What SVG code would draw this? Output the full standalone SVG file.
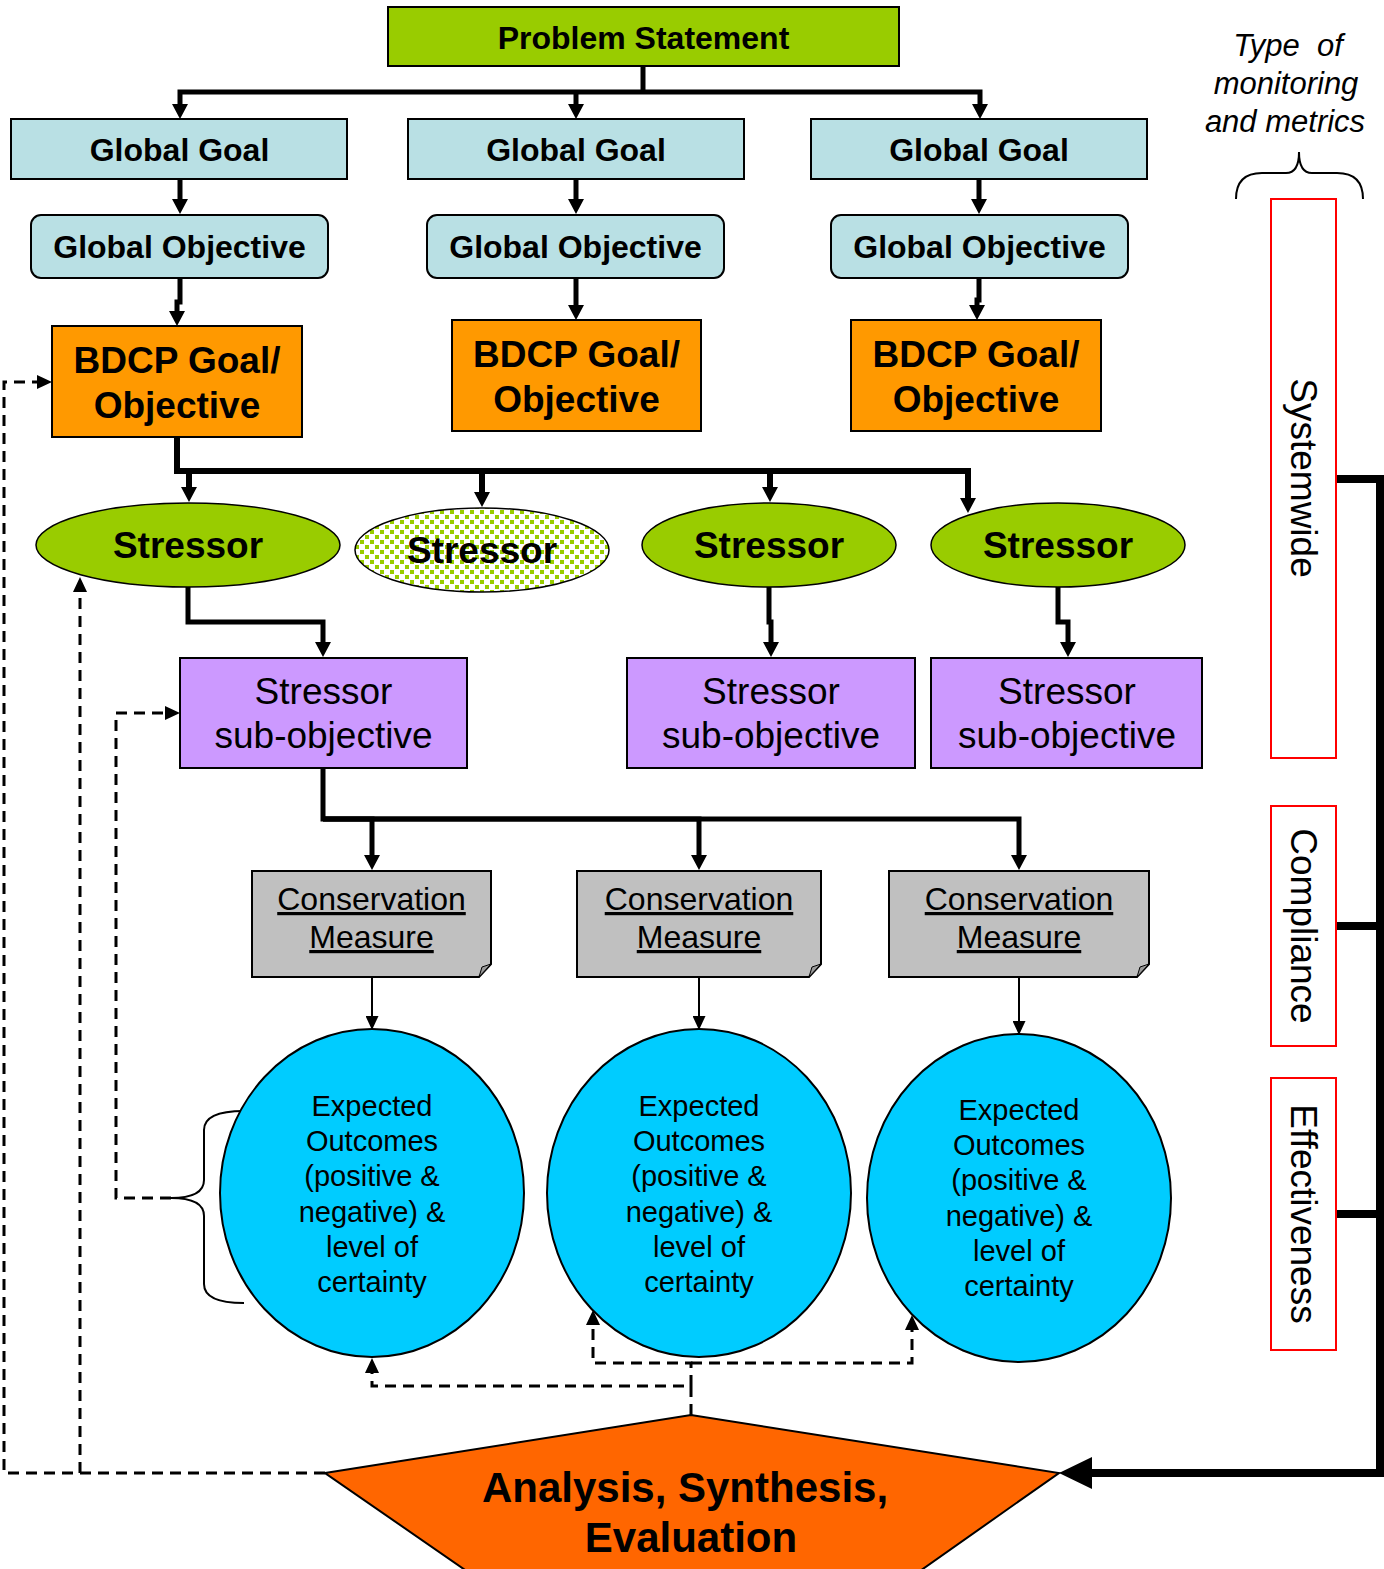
<svg xmlns="http://www.w3.org/2000/svg" width="1384" height="1569" viewBox="0 0 1384 1569">
<style>
.box{stroke:#000;stroke-width:2}
.ps{fill:#99CC00}
.gg{fill:#B9E0E4}
.bd{fill:#FF9900}
.st{fill:#99CC00;stroke:#000;stroke-width:1.5}
.so{fill:#CC99FF}
.cm{fill:#C0C0C0;stroke:#000;stroke-width:2}
.eo{fill:#00CCFF;stroke:#000;stroke-width:2}
.red{fill:#fff;stroke:#FF0000;stroke-width:2}
text{font-family:"Liberation Sans",Arial,sans-serif;fill:#000;text-anchor:middle}
.b32{font-size:32px;font-weight:bold}
.b37{font-size:37px;font-weight:bold}
.r37{font-size:37px}
.r32{font-size:32px;text-decoration:underline}
.r29{font-size:29px}
.vt{font-size:37px}
.it{font-size:31px;font-style:italic}
.b42{font-size:42px;font-weight:bold}
.thick{fill:none;stroke:#000;stroke-width:5}
.thin{fill:none;stroke:#000;stroke-width:2}
.dash{fill:none;stroke:#000;stroke-width:3;stroke-dasharray:11 7}
.heavy{fill:none;stroke:#000;stroke-width:8}
</style>
<defs>
<marker id="ab" markerUnits="userSpaceOnUse" viewBox="0 0 15 16" markerWidth="15" markerHeight="16" refX="0" refY="8" orient="auto"><path d="M0,0 L15,8 L0,16 Z" fill="#000"/></marker>
<marker id="at" markerUnits="userSpaceOnUse" viewBox="0 0 14 13" markerWidth="14" markerHeight="13" refX="0" refY="6.5" orient="auto"><path d="M0,0 L14,6.5 L0,13 Z" fill="#000"/></marker>
<marker id="ad" markerUnits="userSpaceOnUse" viewBox="0 0 15 14" markerWidth="15" markerHeight="14" refX="0" refY="7" orient="auto"><path d="M0,0 L15,7 L0,14 Z" fill="#000"/></marker>
<marker id="ah" markerUnits="userSpaceOnUse" viewBox="0 0 33 32" markerWidth="33" markerHeight="32" refX="0" refY="16" orient="auto"><path d="M0,0 L33,16 L0,32 Z" fill="#000"/></marker>
<pattern id="dots" patternUnits="userSpaceOnUse" width="10" height="10"><rect width="10" height="10" fill="#fff"/><rect x="0" y="0" width="4" height="4" fill="#99CC00"/><rect x="5" y="5" width="4" height="4" fill="#99CC00"/></pattern>
</defs>

<g id="connectors">
<path class="thick" d="M643,66 V92"/>
<path class="thick" d="M643,92 H180 V104" marker-end="url(#ab)"/>
<path class="thick" d="M643,92 H980 V104" marker-end="url(#ab)"/>
<path class="thick" d="M576,92 V104" marker-end="url(#ab)"/>
<path class="thick" d="M180,179 V199" marker-end="url(#ab)"/>
<path class="thick" d="M576,179 V199" marker-end="url(#ab)"/>
<path class="thick" d="M979,179 V199" marker-end="url(#ab)"/>
<path class="thick" d="M180,278 V302 H177 V311" marker-end="url(#ab)"/>
<path class="thick" d="M576,278 V305" marker-end="url(#ab)"/>
<path class="thick" d="M979,278 V300 H977 V305" marker-end="url(#ab)"/>
<path class="thick" style="stroke-width:6" d="M177,437 V471 H189 V487" marker-end="url(#ab)"/>
<path class="thick" style="stroke-width:6" d="M177,471 H482 V492" marker-end="url(#ab)"/>
<path class="thick" style="stroke-width:6" d="M177,471 H770 V487" marker-end="url(#ab)"/>
<path class="thick" style="stroke-width:6" d="M177,471 H968 V498" marker-end="url(#ab)"/>
<path class="thick" d="M188,587 V622 H323 V642" marker-end="url(#ab)"/>
<path class="thick" d="M769,587 V622 H771 V642" marker-end="url(#ab)"/>
<path class="thick" d="M1058,587 V622 H1068 V642" marker-end="url(#ab)"/>
<path class="thick" d="M323,768 V819 H372 V855" marker-end="url(#ab)"/>
<path class="thick" d="M323,819 H699 V855" marker-end="url(#ab)"/>
<path class="thick" d="M323,819 H1019 V855" marker-end="url(#ab)"/>
<path class="thin" d="M372,977 V1016" marker-end="url(#at)"/>
<path class="thin" d="M699,977 V1016" marker-end="url(#at)"/>
<path class="thin" d="M1019,977 V1021" marker-end="url(#at)"/>
<path class="dash" d="M325,1473 H4 V382 H37" marker-end="url(#ad)"/>
<path class="dash" d="M80,1473 V592" marker-end="url(#ad)"/>
<path class="dash" d="M171,1198 H116 V713 H165" marker-end="url(#ad)"/>
<path class="dash" d="M691,1415 V1386 H372 V1373" marker-end="url(#ad)"/>
<path class="dash" d="M691,1386 V1363 H593 V1325" marker-end="url(#ad)"/>
<path class="dash" d="M691,1363 H912 V1330" marker-end="url(#ad)"/>
<path class="heavy" d="M1336,479 H1380 V1473 H1092" marker-end="url(#ah)"/>
<path class="heavy" d="M1336,926 H1380"/>
<path class="heavy" d="M1336,1214 H1380"/>
<path class="thin" d="M244,1111 Q204,1111 204,1130 L204,1180 Q204,1198 171,1198 Q204,1198 204,1216 L204,1284 Q204,1303 244,1303"/>
<path class="thin" d="M1236,199 Q1236,173 1262,173 L1286,173 Q1299,173 1299,152 Q1299,173 1312,173 L1337,173 Q1363,173 1363,199"/>
</g>

<g id="problem-statement"><rect class="box ps" x="388" y="7" width="511" height="59"/><text class="b32" x="643.5" y="49">Problem Statement</text></g>

<g id="global-goal-1"><rect class="box gg" x="11" y="119" width="336" height="60"/><text class="b32" x="179.5" y="161">Global Goal</text></g>
<g id="global-goal-2"><rect class="box gg" x="408" y="119" width="336" height="60"/><text class="b32" x="576" y="161">Global Goal</text></g>
<g id="global-goal-3"><rect class="box gg" x="811" y="119" width="336" height="60"/><text class="b32" x="979" y="161">Global Goal</text></g>

<g id="global-objective-1"><rect class="box gg" x="31" y="215" width="297" height="63" rx="10"/><text class="b32" x="179.5" y="258">Global Objective</text></g>
<g id="global-objective-2"><rect class="box gg" x="427" y="215" width="297" height="63" rx="10"/><text class="b32" x="575.5" y="258">Global Objective</text></g>
<g id="global-objective-3"><rect class="box gg" x="831" y="215" width="297" height="63" rx="10"/><text class="b32" x="979.5" y="258">Global Objective</text></g>

<g id="bdcp-1"><rect class="box bd" x="52" y="326" width="250" height="111"/><text class="b37" x="177" y="373">BDCP Goal/</text><text class="b37" x="177" y="418">Objective</text></g>
<g id="bdcp-2"><rect class="box bd" x="452" y="320" width="249" height="111"/><text class="b37" x="576.5" y="367">BDCP Goal/</text><text class="b37" x="576.5" y="412">Objective</text></g>
<g id="bdcp-3"><rect class="box bd" x="851" y="320" width="250" height="111"/><text class="b37" x="976" y="367">BDCP Goal/</text><text class="b37" x="976" y="412">Objective</text></g>

<g id="stressor-1"><ellipse class="st" cx="188" cy="545" rx="152" ry="42"/><text class="b37" x="188" y="558">Stressor</text></g>
<g id="stressor-2"><ellipse class="st" style="fill:url(#dots)" cx="482" cy="550" rx="127" ry="42"/><text class="b37" x="482" y="563">Stressor</text></g>
<g id="stressor-3"><ellipse class="st" cx="769" cy="545" rx="127" ry="42"/><text class="b37" x="769" y="558">Stressor</text></g>
<g id="stressor-4"><ellipse class="st" cx="1058" cy="545" rx="127" ry="42"/><text class="b37" x="1058" y="558">Stressor</text></g>

<g id="sub-objective-1"><rect class="box so" x="180" y="658" width="287" height="110"/><text class="r37" x="323.5" y="704">Stressor</text><text class="r37" x="323.5" y="748">sub-objective</text></g>
<g id="sub-objective-2"><rect class="box so" x="627" y="658" width="288" height="110"/><text class="r37" x="771" y="704">Stressor</text><text class="r37" x="771" y="748">sub-objective</text></g>
<g id="sub-objective-3"><rect class="box so" x="931" y="658" width="271" height="110"/><text class="r37" x="1067" y="704">Stressor</text><text class="r37" x="1067" y="748">sub-objective</text></g>

<g id="measure-1"><path class="cm" d="M252,871 H491 V964 L479,977 H252 Z"/><path d="M479,977 L482,967 L491,964 Z" fill="#999" stroke="#000" stroke-width="1"/><text class="r32" x="371.5" y="910">Conservation</text><text class="r32" x="371.5" y="948">Measure</text></g>
<g id="measure-2"><path class="cm" d="M577,871 H821 V964 L809,977 H577 Z"/><path d="M809,977 L812,967 L821,964 Z" fill="#999" stroke="#000" stroke-width="1"/><text class="r32" x="699" y="910">Conservation</text><text class="r32" x="699" y="948">Measure</text></g>
<g id="measure-3"><path class="cm" d="M889,871 H1149 V964 L1137,977 H889 Z"/><path d="M1137,977 L1140,967 L1149,964 Z" fill="#999" stroke="#000" stroke-width="1"/><text class="r32" x="1019" y="910">Conservation</text><text class="r32" x="1019" y="948">Measure</text></g>

<g id="outcome-1"><ellipse class="eo" cx="372" cy="1193" rx="152" ry="164"/>
<text class="r29" x="372" y="1116">Expected</text><text class="r29" x="372" y="1151">Outcomes</text><text class="r29" x="372" y="1186">(positive &amp;</text><text class="r29" x="372" y="1222">negative) &amp;</text><text class="r29" x="372" y="1257">level of</text><text class="r29" x="372" y="1292">certainty</text></g>
<g id="outcome-2"><ellipse class="eo" cx="699" cy="1193" rx="152" ry="164"/>
<text class="r29" x="699" y="1116">Expected</text><text class="r29" x="699" y="1151">Outcomes</text><text class="r29" x="699" y="1186">(positive &amp;</text><text class="r29" x="699" y="1222">negative) &amp;</text><text class="r29" x="699" y="1257">level of</text><text class="r29" x="699" y="1292">certainty</text></g>
<g id="outcome-3"><ellipse class="eo" cx="1019" cy="1198" rx="152" ry="164"/>
<text class="r29" x="1019" y="1120">Expected</text><text class="r29" x="1019" y="1155">Outcomes</text><text class="r29" x="1019" y="1190">(positive &amp;</text><text class="r29" x="1019" y="1226">negative) &amp;</text><text class="r29" x="1019" y="1261">level of</text><text class="r29" x="1019" y="1296">certainty</text></g>

<g id="analysis"><polygon points="325,1473 691,1415 1059,1473 893,1590 494,1590" fill="#FF6600" stroke="#000" stroke-width="2"/><text class="b42" x="685" y="1502">Analysis, Synthesis,</text><text class="b42" x="691" y="1552">Evaluation</text></g>

<g id="type-label"><text class="it" x="1288" y="56" xml:space="preserve">Type  of</text><text class="it" x="1286" y="94">monitoring</text><text class="it" x="1285" y="132">and metrics</text></g>

<g id="systemwide"><rect class="red" x="1271" y="199" width="65" height="559"/><text class="vt" transform="translate(1291,478) rotate(90)">Systemwide</text></g>
<g id="compliance"><rect class="red" x="1271" y="806" width="65" height="240"/><text class="vt" transform="translate(1291,926) rotate(90)">Compliance</text></g>
<g id="effectiveness"><rect class="red" x="1271" y="1078" width="65" height="272"/><text class="vt" transform="translate(1291,1214) rotate(90)">Effectiveness</text></g>
</svg>
